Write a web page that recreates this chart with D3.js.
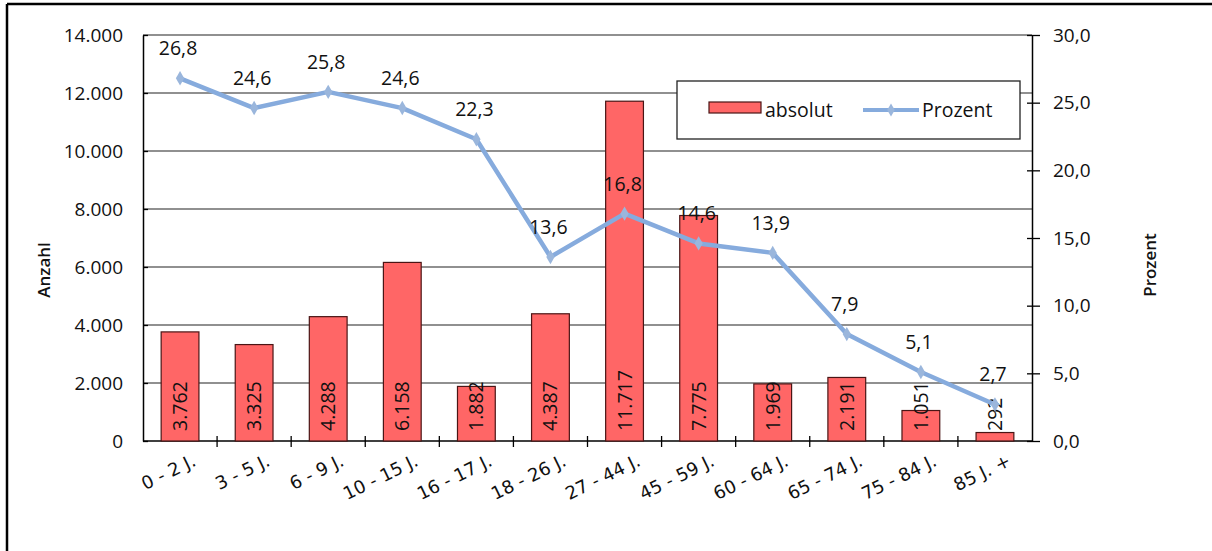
<!DOCTYPE html>
<html><head><meta charset="utf-8">
<script src="https://cdn.jsdelivr.net/npm/d3@7"></script>
<style>body{margin:0;background:#fff}svg{display:block}</style>
</head><body>
<svg id="chart" width="1212" height="551"></svg>
<script>
const categories = ["0 - 2 J.","3 - 5 J.","6 - 9 J.","10 - 15 J.","16 - 17 J.","18 - 26 J.","27 - 44 J.","45 - 59 J.","60 - 64 J.","65 - 74 J.","75 - 84 J.","85 J. +"];
const absolut = [3762,3325,4288,6158,1882,4387,11717,7775,1969,2191,1051,292];
const prozent = [26.8,24.6,25.8,24.6,22.3,13.6,16.8,14.6,13.9,7.9,5.1,2.7];
const leftTicks = [0,2000,4000,6000,8000,10000,12000,14000];
const rightTicks = [0,5,10,15,20,25,30];
const seriesNames = ["absolut","Prozent"];
const axisTitles = ["Anzahl","Prozent"];

const loc = d3.formatLocale({decimal:",",thousands:".",grouping:[3],currency:["","€"]});
const fInt = loc.format(",d");
const f1 = loc.format(".1f");

const svg = d3.select("#chart");
const font = "Open Sans, Liberation Sans, sans-serif";
const m = {l:143, r:1032, t:35, b:441};

const x = d3.scaleBand().domain(categories).range([m.l,m.r]).paddingInner(0.49).paddingOuter(0.245);
const xb = d3.scaleBand().domain(categories).range([m.l,m.r]);
const yL = d3.scaleLinear().domain([0,14000]).range([m.b,m.t]);
const yR = d3.scaleLinear().domain([0,30]).range([m.b,m.t]);

// outer frame
svg.append("line").attr("x1",7).attr("x2",1212).attr("y1",4).attr("y2",4).attr("stroke","#000").attr("stroke-width",2.5);
svg.append("line").attr("x1",7).attr("x2",7).attr("y1",4).attr("y2",551).attr("stroke","#000").attr("stroke-width",2.5);

// gridlines
svg.append("g").selectAll("line").data(leftTicks.slice(1)).join("line")
  .attr("x1",m.l).attr("x2",m.r).attr("y1",d=>yL(d)).attr("y2",d=>yL(d))
  .attr("stroke","#222").attr("stroke-width",1.2);

// left axis
const gL = svg.append("g").attr("transform",`translate(${m.l},0)`)
  .call(d3.axisLeft(yL).tickValues(leftTicks).tickFormat(fInt).tickSizeInner(8).tickSizeOuter(0).tickPadding(12));
gL.selectAll(".tick line").attr("x2",5);
gL.select(".domain").attr("stroke","#000").attr("stroke-width",1.5);
gL.selectAll("text").attr("font-family",font).attr("font-size",19).attr("fill","#111");
gL.selectAll(".tick line").attr("stroke","#000").attr("stroke-width",1.3);

// right axis
const gR = svg.append("g").attr("transform",`translate(${m.r},0)`)
  .call(d3.axisRight(yR).tickValues(rightTicks).tickFormat(f1).tickSizeInner(8).tickSizeOuter(0).tickPadding(13));
gR.selectAll(".tick line").attr("x1",-5);
gR.select(".domain").attr("stroke","#000").attr("stroke-width",1.5);
gR.selectAll("text").attr("font-family",font).attr("font-size",19).attr("fill","#111");
gR.selectAll(".tick line").attr("stroke","#000").attr("stroke-width",1.3);

// x axis line and ticks at category boundaries
svg.append("line").attr("x1",m.l).attr("x2",m.r).attr("y1",m.b).attr("y2",m.b).attr("stroke","#000").attr("stroke-width",1.5);
svg.append("g").selectAll("line").data(categories.slice(1)).join("line")
  .attr("x1",d=>xb(d)).attr("x2",d=>xb(d)).attr("y1",m.b-5).attr("y2",m.b+6)
  .attr("stroke","#000").attr("stroke-width",1.3);

// x labels
svg.append("g").selectAll("text").data(categories).join("text")
  .attr("transform",d=>`translate(${xb(d)+xb.bandwidth()/2+17},${m.b+24}) rotate(-26)`)
  .attr("text-anchor","end").attr("font-family","DejaVu Sans, sans-serif").attr("font-size",18).attr("fill","#111")
  .text(d=>d);

// bars
svg.append("g").selectAll("rect").data(categories).join("rect")
  .attr("x",d=>x(d)).attr("width",x.bandwidth())
  .attr("y",(d,i)=>yL(absolut[i])).attr("height",(d,i)=>m.b-yL(absolut[i]))
  .attr("fill","#FF6666").attr("stroke","#4a1515").attr("stroke-width",1.2);

// bar labels
svg.append("g").selectAll("text").data(absolut).join("text")
  .attr("transform",(d,i)=>`translate(${x(categories[i])+x.bandwidth()/2+7},${m.b-10}) rotate(-90)`)
  .attr("text-anchor","start").attr("font-family",font).attr("font-size",19.5).attr("fill","#111")
  .text(d=>fInt(d));

// line
const pts = categories.map((c,i)=>[xb(c)+xb.bandwidth()/2, yR(prozent[i])]);
svg.append("path").attr("d",d3.line()(pts)).attr("fill","none").attr("stroke","#86ABDD").attr("stroke-width",4.5).attr("stroke-linejoin","round");
svg.append("g").selectAll("path").data(pts).join("path")
  .attr("transform",d=>`translate(${d[0]},${d[1]})`)
  .attr("d",d3.symbol(d3.symbolDiamond,60)).attr("fill","#9AB6DC");

// percent labels
svg.append("g").selectAll("text").data(pts).join("text")
  .attr("x",d=>d[0]-2).attr("y",d=>d[1]-23)
  .attr("text-anchor","middle").attr("font-family",font).attr("font-size",19.5).attr("fill","#111")
  .text((d,i)=>f1(prozent[i]));

// axis titles
svg.append("text").attr("transform","translate(50,270) rotate(-90)").attr("text-anchor","middle")
  .attr("font-family",font).attr("font-size",17).attr("font-weight",600).attr("fill","#111").text(axisTitles[0]);
svg.append("text").attr("transform","translate(1156,265) rotate(-90)").attr("text-anchor","middle")
  .attr("font-family",font).attr("font-size",17).attr("font-weight",600).attr("fill","#111").text(axisTitles[1]);

// legend
const lg = svg.append("g");
lg.append("rect").attr("x",677).attr("y",81).attr("width",343).attr("height",58).attr("fill","#fff").attr("stroke","#222").attr("stroke-width",1.3);
lg.append("rect").attr("x",709).attr("y",102).attr("width",52).attr("height",11).attr("fill","#FF6666").attr("stroke","#4a1515").attr("stroke-width",1.2);
lg.append("text").attr("x",765).attr("y",117).attr("font-family",font).attr("font-size",19.5).attr("fill","#111").text(seriesNames[0]);
lg.append("line").attr("x1",863).attr("x2",919).attr("y1",110).attr("y2",110).attr("stroke","#86ABDD").attr("stroke-width",4);
lg.append("path").attr("transform","translate(891,110)").attr("d",d3.symbol(d3.symbolDiamond,50)).attr("fill","#9AB6DC");
lg.append("text").attr("x",922).attr("y",117).attr("font-family",font).attr("font-size",19.5).attr("fill","#111").text(seriesNames[1]);
</script>
</body></html>
